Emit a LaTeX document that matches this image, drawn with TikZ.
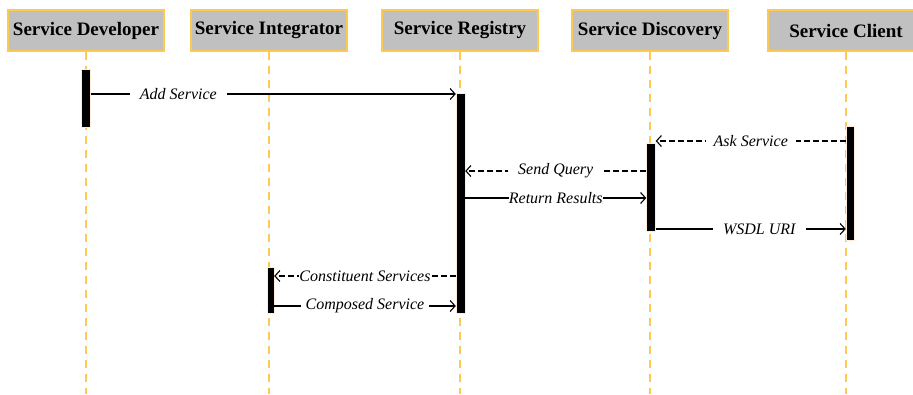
\documentclass[tikz,border=0pt]{standalone}
\usepackage{fontspec}
\setmainfont{Liberation Serif}
\usetikzlibrary{arrows.meta}
\definecolor{lifeorange}{RGB}{255,200,80}
\definecolor{headgray}{RGB}{192,192,192}
\begin{document}
\begin{tikzpicture}[x=1pt,y=-1pt,
    head/.style={draw=lifeorange,line width=1.2pt,fill=headgray,minimum width=156pt,minimum height=41pt,inner sep=0pt,font=\fontsize{19}{22}\selectfont\bfseries},
    life/.style={lifeorange,line width=1.2pt,dash pattern=on 8pt off 6pt},
    act/.style={fill=black,draw=orange!15,line width=.4pt,minimum width=9pt,inner sep=0pt},
    msg/.style={line width=1.1pt,-{Straight Barb[length=5pt,width=11pt]}},
    rep/.style={msg,dash pattern=on 6pt off 3pt},
    lbl/.style={fill=white,font=\fontsize{16}{18}\selectfont\itshape,inner ysep=1pt}]
    \useasboundingbox (0,0) rectangle (913,394);
    		\foreach \x/\n/\t in {86/dev/Service Developer,269/int/Service Integrator,460/reg/Service Registry,650/dis/Service Discovery,846/cli/Service Client}
    		{
    			\node[head] (\n) at (\x,30.5) {\t};
    			\coordinate (\n end) at (\x,394);
    			\draw[life] (\n.south) -- (\n end);
    		}
    		\node[act,minimum height=58pt] (devA) at (86,98) {};
    		\node[act,minimum height=220pt] (regA) at (460.5,203) {};
    		\node[act,minimum height=88pt] (disA) at (651,187) {};
    		\node[act,minimum height=114pt,minimum width=8pt] (cliA) at (850,183) {};
    		\node[act,minimum height=46pt,minimum width=7pt] (intA) at (270.5,290) {};
    		\foreach \i/\y in {1/94,2/141,3/171,4/198,5/229,6/276,7/306}
    			\coordinate (m\i) at (0,\y);
    		\draw[msg] (devA.east |- m1) -- node[lbl,pos=.24,inner xsep=10pt] {Add Service} (regA.west |- m1);
    		\draw[rep] (cliA.west |- m2) -- node[lbl,inner xsep=8pt] {Ask Service} (disA.east |- m2);
    		\draw[rep] (disA.west |- m3) -- node[lbl,inner xsep=10pt] {Send Query} (regA.east |- m3);
    		\draw[msg] (regA.east |- m4) -- node[lbl,inner xsep=0pt] {Return Results} (disA.west |- m4);
    		\draw[msg] (disA.east |- m5) -- node[lbl,pos=.545,inner xsep=10pt] {WSDL URI} (cliA.west |- m5);
    		\draw[rep] (regA.west |- m6) -- node[lbl,inner xsep=0pt] {Constituent Services} (intA.east |- m6);
    		\draw[msg] (intA.east |- m7) -- node[lbl,inner xsep=5pt] {Composed Service} (regA.west |- m7);
    		\end{tikzpicture}
\end{document}
